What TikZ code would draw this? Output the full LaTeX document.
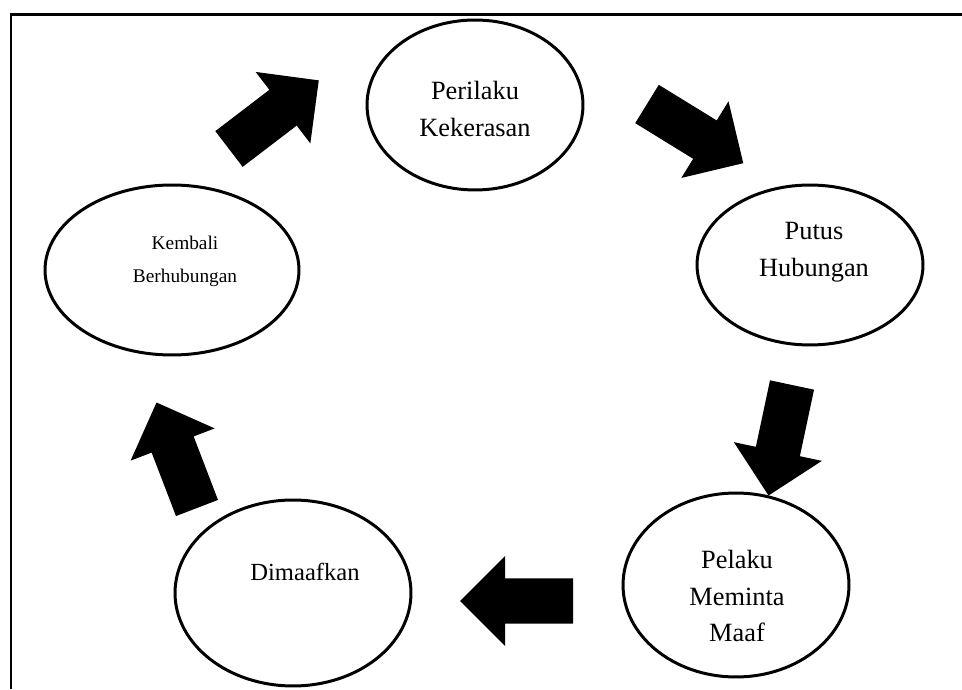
\documentclass[tikz,border=0pt]{standalone}
\usepackage{fontspec}
\setmainfont{Liberation Serif}
\usetikzlibrary{shapes.geometric,calc,positioning}
\tikzset{
  phase/.style={draw,ellipse,line width=1.7pt,inner sep=0pt},
  phasetext/.style={align=center,font=\fontsize{15pt}{21pt}\selectfont},
  blockarrow/.style={fill=black,draw=none}
}
\begin{document}
\begin{tikzpicture}[x=0.02cm,y=0.02cm,line join=round]
\useasboundingbox (0,0) rectangle (962,689);
\draw[line width=1.7pt,line join=miter] (11,0)--(11,674)--(962,674);
% ellipses
\node[phase,minimum width=4.32cm,minimum height=3.4cm] (P) at (475,584) {};
\node[phase,minimum width=4.52cm,minimum height=3.2cm] (U) at (810,424) {};
\node[phase,minimum width=4.52cm,minimum height=3.68cm] (M) at (736,104) {};
\node[phase,minimum width=4.72cm,minimum height=3.72cm] (D) at (293,96) {};
\node[phase,minimum width=5.08cm,minimum height=3.4cm] (K) at (172,419) {};
% texts
\node[phasetext] (tP) at ($(P)+(0,-4)$) {Perilaku\\Kekerasan};
\node[phasetext] (tU) at ($(U)+(4,13)$) {Putus\\Hubungan};
\node[phasetext] (tM) at ($(M)+(1,-11)$) {Pelaku\\Meminta\\Maaf};
\node[phasetext,font=\fontsize{14pt}{19pt}\selectfont] (tD) at ($(D)+(12,21)$) {Dimaafkan};
\node[phasetext,font=\fontsize{11pt}{18.7pt}\selectfont] (tK) at ($(K)+(13,9)$) {Kembali\\Berhubungan};
% block arrows
\foreach \x/\y/\a in {229/540/37.4,647/585/-31.6,792/304/-102,573/88/180,197/181/111}{
  \fill[blockarrow,shift={(\x,\y)},rotate=\a]
    (0,-22.5)--(68,-22.5)--(68,-45)--(113,0)--(68,45)--(68,22.5)--(0,22.5)--cycle;}
\end{tikzpicture}
\end{document}
